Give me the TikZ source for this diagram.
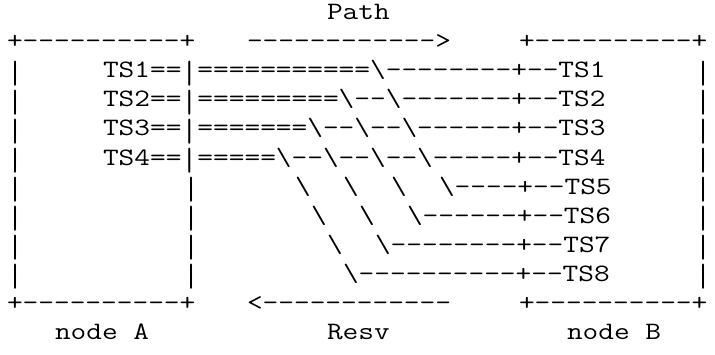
\documentclass[tikz,border=0pt]{standalone}
\usepackage{fontspec}
\usepackage{graphicx}
\newcommand\asciifont{\ttfamily\fontsize{25}{29}\selectfont}
\newcommand\bsl{\textbackslash}
% a taller bar glyph so that the box sides run almost unbroken
\newcommand\vb{\raisebox{-8pt}[17pt][0pt]{\resizebox*{13.125pt}{25pt}{\raisebox{\depth}{|}}}}
% widen the typewriter glyphs to a 16pt column pitch
\newcommand\wide[1]{\scalebox{1.219}[1]{#1}}
\tikzset{
  ascii/.style={anchor=base west, inner sep=0pt, outer sep=0pt, font=\asciifont}
}
\begin{document}
\begin{tikzpicture}
\useasboundingbox (0,0) rectangle (715pt,354pt);
% one unit = one character cell: x = column, y = row (downwards)
\begin{scope}[shift={(7pt,334pt)}, x=16pt, y=-29pt]
  % row 0
  \node[ascii] (lblPath) at (20,0) {\wide{Path}};
  % row 1: box tops and the forward arrow
  \node[ascii] (boxAtop) at (0,1) {\wide{+----------+}};
  \node[ascii] (fwd)     at (15,1) {\wide{------------>}};
  \node[ascii] (boxBtop) at (32,1) {\wide{+----------+}};
  % rows 2-5: the four sessions leaving node A
  \node[ascii] (aL2) at (0,2) {\wide{\vb}};
  \node[ascii] (ts1) at (6,2) {\wide{TS1==\vb===========\bsl--------+--TS1}};
  \node[ascii] (bR2) at (43,2) {\wide{\vb}};
  \node[ascii] (aL3) at (0,3) {\wide{\vb}};
  \node[ascii] (ts2) at (6,3) {\wide{TS2==\vb=========\bsl--\bsl-------+--TS2}};
  \node[ascii] (bR3) at (43,3) {\wide{\vb}};
  \node[ascii] (aL4) at (0,4) {\wide{\vb}};
  \node[ascii] (ts3) at (6,4) {\wide{TS3==\vb=======\bsl--\bsl--\bsl------+--TS3}};
  \node[ascii] (bR4) at (43,4) {\wide{\vb}};
  \node[ascii] (aL5) at (0,5) {\wide{\vb}};
  \node[ascii] (ts4) at (6,5) {\wide{TS4==\vb=====\bsl--\bsl--\bsl--\bsl-----+--TS4}};
  \node[ascii] (bR5) at (43,5) {\wide{\vb}};
  % row 6
  \node[ascii] (aL6) at (0,6) {\wide{\vb}};
  \node[ascii] (aR6) at (11,6) {\wide{\vb}};
  \node[ascii] (d6a) at (18,6) {\wide{\bsl}};
  \node[ascii] (d6b) at (21,6) {\wide{\bsl}};
  \node[ascii] (d6c) at (24,6) {\wide{\bsl}};
  \node[ascii] (ts5) at (27,6) {\wide{\bsl----+--TS5}};
  \node[ascii] (bR6) at (43,6) {\wide{\vb}};
  % row 7
  \node[ascii] (aL7) at (0,7) {\wide{\vb}};
  \node[ascii] (aR7) at (11,7) {\wide{\vb}};
  \node[ascii] (d7a) at (19,7) {\wide{\bsl}};
  \node[ascii] (d7b) at (22,7) {\wide{\bsl}};
  \node[ascii] (ts6) at (25,7) {\wide{\bsl------+--TS6}};
  \node[ascii] (bR7) at (43,7) {\wide{\vb}};
  % row 8
  \node[ascii] (aL8) at (0,8) {\wide{\vb}};
  \node[ascii] (aR8) at (11,8) {\wide{\vb}};
  \node[ascii] (d8a) at (20,8) {\wide{\bsl}};
  \node[ascii] (ts7) at (23,8) {\wide{\bsl--------+--TS7}};
  \node[ascii] (bR8) at (43,8) {\wide{\vb}};
  % row 9
  \node[ascii] (aL9) at (0,9) {\wide{\vb}};
  \node[ascii] (aR9) at (11,9) {\wide{\vb}};
  \node[ascii] (ts8) at (21,9) {\wide{\bsl----------+--TS8}};
  \node[ascii] (bR9) at (43,9) {\wide{\vb}};
  % row 10: box bottoms and the return arrow
  \node[ascii] (boxAbot) at (0,10) {\wide{+----------+}};
  \node[ascii] (rev)     at (15,10) {\wide{<------------}};
  \node[ascii] (boxBbot) at (32,10) {\wide{+----------+}};
  % row 11: labels
  \node[ascii] (lblA)    at (3,11) {\wide{node A}};
  \node[ascii] (lblResv) at (20,11) {\wide{Resv}};
  \node[ascii] (lblB)    at (35,11) {\wide{node B}};
\end{scope}
\end{tikzpicture}
\end{document}
